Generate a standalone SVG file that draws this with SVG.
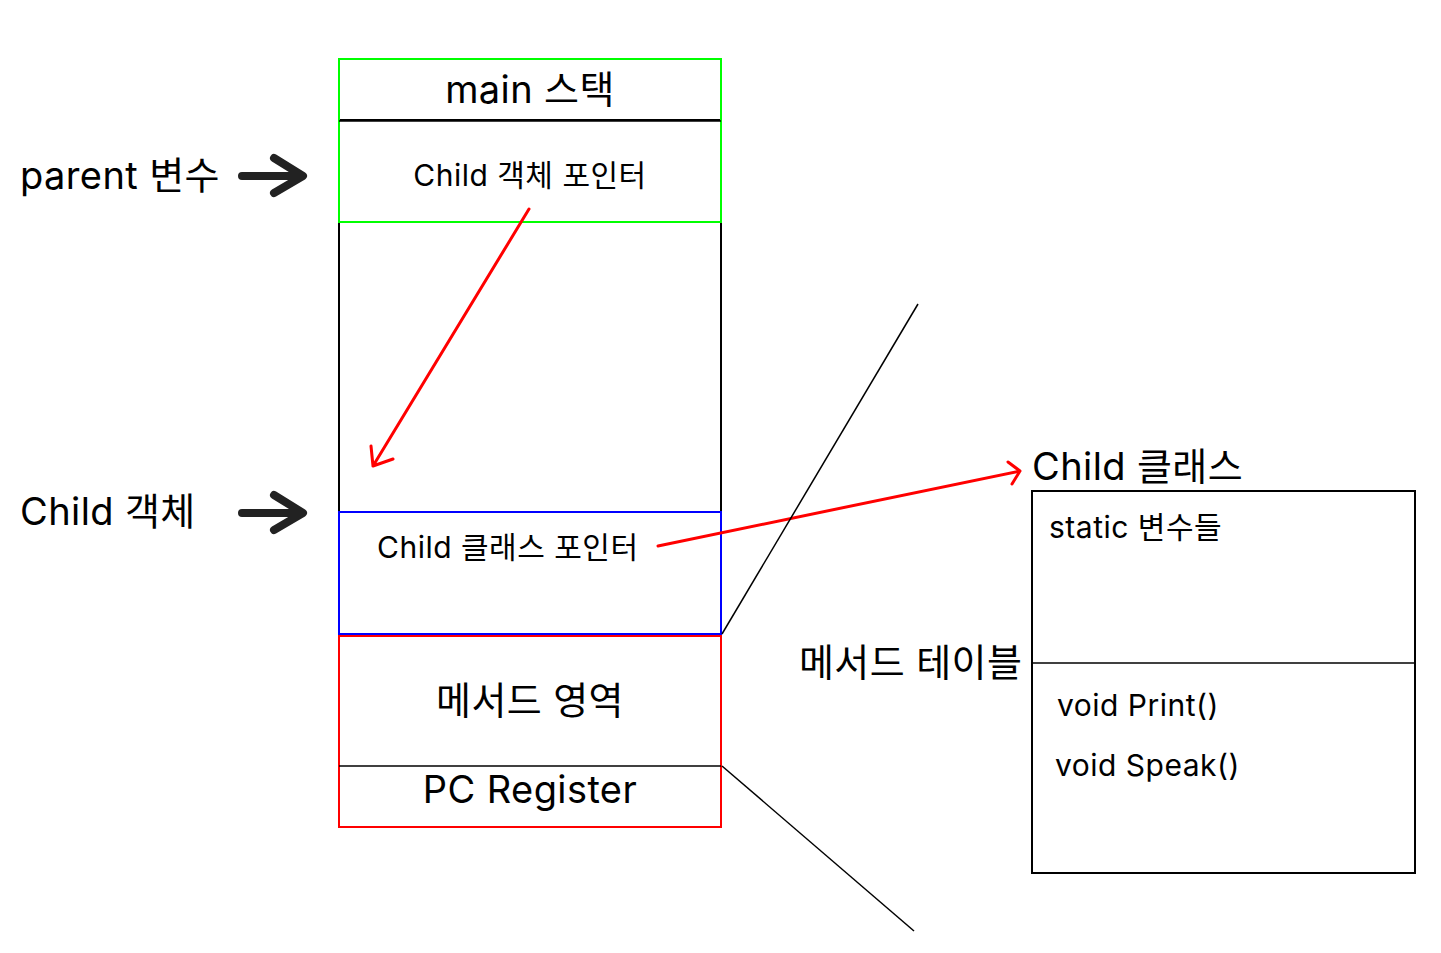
<svg xmlns="http://www.w3.org/2000/svg" width="1441" height="953" viewBox="0 0 1441 953">
<style>
text{font-family:Inter,"Noto Sans CJK KR",sans-serif;fill:#000}
.l{font-size:38px;letter-spacing:0.4px}
.m{font-size:30px;letter-spacing:0.5px}
.c{text-anchor:middle}
.box{fill:none;stroke-width:2}
.ln{stroke:#000;stroke-width:1.5;fill:none}
.red{stroke:#f00;stroke-width:3;fill:none;stroke-linecap:round;stroke-linejoin:round}
.big{stroke:#222;stroke-width:8;fill:none;stroke-linecap:round;stroke-linejoin:round}
</style>
<rect width="1441" height="953" fill="#fff"/>
<g id="stack">
<rect class="box" x="339" y="120" width="382" height="392" stroke="#000"/>
<rect class="box" x="339" y="59" width="382" height="163" stroke="#0f0"/>
<line class="ln" x1="339" y1="121" x2="721" y2="121"/>
<text class="l c" x="530" y="103">main 스택</text>
<text class="m c" x="530" y="186">Child 객체 포인터</text>
</g>
<g id="child-object">
<rect class="box" x="339" y="512" width="382" height="122" stroke="#00f"/>
<text class="m" x="377" y="558">Child 클래스 포인터</text>
</g>
<g id="method-area">
<rect class="box" x="339" y="636" width="382" height="191" stroke="#f00"/>
<line class="ln" x1="339" y1="766" x2="721" y2="766"/>
<text class="l c" x="530" y="714">메서드 영역</text>
<text class="l c" x="530" y="803">PC Register</text>
</g>
<g id="labels">
<text class="l" x="20" y="189">parent 변수</text>
<text class="l" x="20" y="525">Child 객체</text>
<text class="l" x="799" y="676">메서드 테이블</text>
</g>
<g id="child-class">
<text class="l" x="1032" y="480">Child 클래스</text>
<rect class="box" x="1032" y="491" width="383" height="382" stroke="#000"/>
<line class="ln" x1="1032" y1="663" x2="1415" y2="663"/>
<text class="m" x="1049" y="538">static 변수들</text>
<text class="m" x="1057" y="716">void Print()</text>
<text class="m" x="1055" y="776">void Speak()</text>
</g>
<g id="connectors">
<path class="big" d="M242 176H302M274 158L303 176L274 193"/>
<path class="big" d="M242 513H302M274 495L303 513L274 530"/>
<path class="red" d="M529 209L373 466M371 446L373 466L393 459"/>
<path class="red" d="M658 546L1020 471M1008 462L1020 471L1012 484"/>
<line class="ln" x1="722" y1="634" x2="918" y2="304"/>
<line class="ln" x1="722" y1="766" x2="914" y2="931"/>
</g>
</svg>
